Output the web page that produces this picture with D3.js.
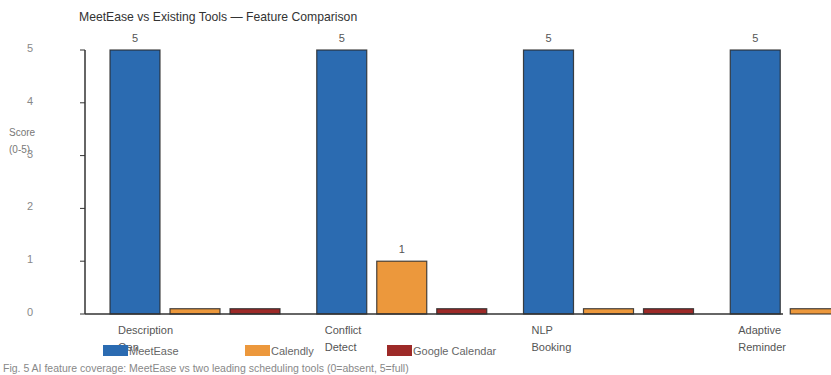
<!DOCTYPE html>
<html>
<head>
<meta charset="utf-8">
<script src="https://cdn.jsdelivr.net/npm/d3@7"></script>
<style>
  body { margin: 0; background: #fff; overflow: hidden; }
  svg { display: block; font-family: "Liberation Sans", Arial, sans-serif; }
</style>
</head>
<body>
<script>
// Data
const categories = ["Description Gen", "Conflict Detect", "NLP Booking", "Adaptive Reminder"];
const categoryLines = [["Description", "Gen"], ["Conflict", "Detect"], ["NLP", "Booking"], ["Adaptive", "Reminder"]];
const series = ["MeetEase", "Calendly", "Google Calendar"];
const meetEase = [5, 5, 5, 5];
const calendly = [0, 1, 0, 0];
const googleCal = [0, 0, 0, 0];
const yTicks = [0, 1, 2, 3, 4, 5];
const colors = ["#2b6bb1", "#ec983c", "#9d2a28"];

const width = 831, height = 375;
const margin = {left: 85, top: 50, bottom: 61};
const plotW = 698;

const svg = d3.select("body").append("svg")
    .attr("width", width)
    .attr("height", height);

const rows = categories.map((c, i) => ({
  cat: c,
  values: [meetEase[i], calendly[i], googleCal[i]]
}));

// Scales
const y = d3.scaleLinear()
    .domain([0, 5])
    .range([height - margin.bottom, margin.top]);

const x0 = d3.scaleBand()
    .domain(categories)
    .range([margin.left, margin.left + 827]);

const x1 = d3.scaleBand()
    .domain(series)
    .range([25, 195])
    .paddingInner(1/6);

const color = d3.scaleOrdinal().domain(series).range(colors);

// Title
svg.append("text")
    .attr("x", 79).attr("y", 21)
    .attr("font-size", 12.2)
    .attr("fill", "#333")
    .text("MeetEase vs Existing Tools \u2014 Feature Comparison");

// Bars (zero scores drawn as a thin stub)
const groups = svg.selectAll(".grp")
    .data(rows)
  .enter().append("g")
    .attr("class", "grp")
    .attr("transform", d => `translate(${x0(d.cat)},0)`);

groups.selectAll("rect")
    .data(d => d.values.map((v, j) => ({key: series[j], v})))
  .enter().append("rect")
    .attr("x", d => x1(d.key))
    .attr("width", x1.bandwidth())
    .attr("y", d => y(Math.max(d.v, 0.1)))
    .attr("height", d => y(0) - y(Math.max(d.v, 0.1)))
    .attr("fill", d => color(d.key))
    .attr("stroke", "rgba(40,40,40,0.85)")
    .attr("stroke-width", 1.2);

groups.selectAll(".val")
    .data(d => d.values.map((v, j) => ({key: series[j], v})).filter(d => d.v > 0))
  .enter().append("text")
    .attr("class", "val")
    .attr("x", d => x1(d.key) + x1.bandwidth() / 2)
    .attr("y", d => y(d.v) - 8)
    .attr("text-anchor", "middle")
    .attr("font-size", 11)
    .attr("fill", "#555")
    .text(d => d.v);

// Y axis
const yAxis = svg.append("g");
yAxis.append("line")
    .attr("x1", margin.left).attr("x2", margin.left)
    .attr("y1", y(5)).attr("y2", y(0))
    .attr("stroke", "#333").attr("stroke-width", 1.5);
yAxis.selectAll(".tick")
    .data(yTicks)
  .enter().append("line")
    .attr("x1", margin.left - 5).attr("x2", margin.left)
    .attr("y1", d => y(d)).attr("y2", d => y(d))
    .attr("stroke", "#333").attr("stroke-width", 1);
yAxis.selectAll(".tl")
    .data(yTicks)
  .enter().append("text")
    .attr("x", 30).attr("y", d => y(d) + 2)
    .attr("text-anchor", "middle")
    .attr("font-size", 11)
    .attr("fill", "#888")
    .text(d => d);

// Y axis title
const yTitle = svg.append("text")
    .attr("font-size", 10)
    .attr("fill", "#777");
yTitle.append("tspan").attr("x", 9).attr("y", 136).text("Score");
yTitle.append("tspan").attr("x", 9).attr("y", 153).text("(0-5)");

// X baseline
svg.append("line")
    .attr("x1", margin.left).attr("x2", margin.left + plotW)
    .attr("y1", y(0)).attr("y2", y(0))
    .attr("stroke", "#333").attr("stroke-width", 1.5);

// Category labels
categories.forEach((c, i) => {
  const t = svg.append("text")
      .attr("font-size", 11)
      .attr("fill", "#555");
  categoryLines[i].forEach((ln, k) => {
    t.append("tspan")
      .attr("x", x0(c) + 33)
      .attr("y", 334 + k * 17)
      .text(ln);
  });
});

// Legend
const legend = svg.selectAll(".lg")
    .data(series)
  .enter().append("g")
    .attr("class", "lg")
    .attr("transform", (d, i) => `translate(${103 + i * 142},345)`);
legend.append("rect")
    .attr("width", 25).attr("height", 11)
    .attr("fill", d => color(d));
legend.append("text")
    .attr("x", 26).attr("y", 10)
    .attr("font-size", 11)
    .attr("fill", "#666")
    .text(d => d);

// Caption
svg.append("text")
    .attr("x", 3).attr("y", 372)
    .attr("font-size", 10.5)
    .attr("fill", "#888")
    .text("Fig. 5  AI feature coverage: MeetEase vs two leading scheduling tools (0=absent, 5=full)");
</script>
</body>
</html>
